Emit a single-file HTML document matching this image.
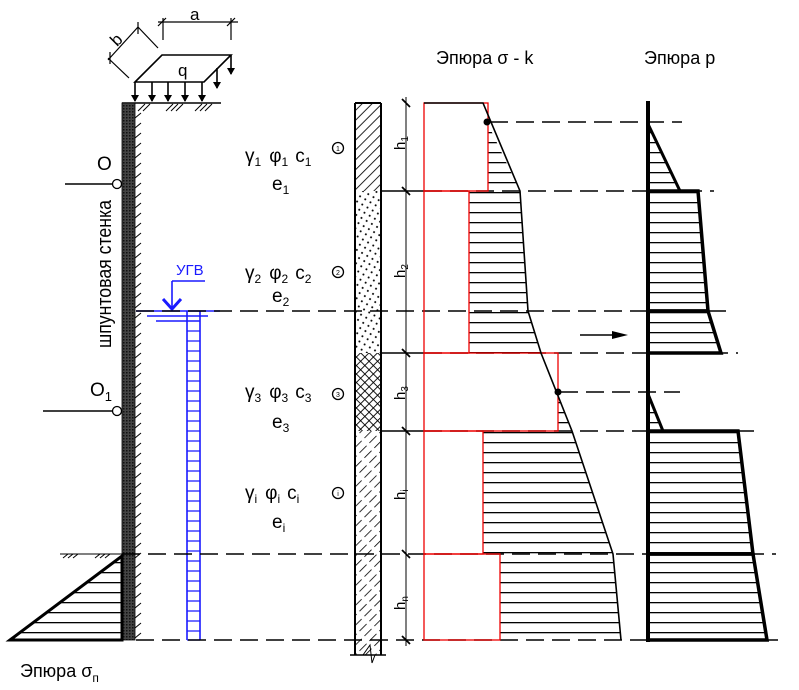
<!DOCTYPE html>
<html><head><meta charset="utf-8"><style>
html,body{margin:0;padding:0;background:#fff;width:799px;height:690px;overflow:hidden}
svg{display:block;font-family:"Liberation Sans","DejaVu Sans",sans-serif}
</style></head><body>
<svg width="799" height="690" viewBox="0 0 799 690" xmlns="http://www.w3.org/2000/svg">
<defs>
<pattern id="hz" patternUnits="userSpaceOnUse" width="10" height="10" y="2"><line x1="0" y1="0.5" x2="10" y2="0.5" stroke="#000" stroke-width="1.6"/></pattern>
<pattern id="diag" patternUnits="userSpaceOnUse" width="7" height="9" patternTransform="rotate(45)"><line x1="0" y1="0" x2="0" y2="9" stroke="#000" stroke-width="1.7"/></pattern>
<pattern id="diagd" patternUnits="userSpaceOnUse" width="7" height="14" patternTransform="rotate(45)"><line x1="0" y1="0" x2="0" y2="10" stroke="#000" stroke-width="1.6"/></pattern>
<pattern id="dots" patternUnits="userSpaceOnUse" width="6" height="6" patternTransform="rotate(30)"><circle cx="2" cy="2" r="1" fill="#000"/></pattern>
<pattern id="cross" patternUnits="userSpaceOnUse" width="6" height="6" patternTransform="rotate(45)"><line x1="0" y1="0" x2="0" y2="6" stroke="#000" stroke-width="1.8"/><line x1="0" y1="0" x2="6" y2="0" stroke="#000" stroke-width="1.8"/></pattern>
<pattern id="wall" patternUnits="userSpaceOnUse" width="3" height="3"><rect width="3" height="3" fill="#444"/><rect width="1.5" height="1.5" fill="#111"/></pattern>
</defs>

<!-- dimension a, b -->
<g stroke="#000" stroke-width="1.2" fill="none">
<line x1="158" y1="22" x2="238" y2="22"/>
<line x1="163" y1="18" x2="163" y2="40"/><line x1="231" y1="18" x2="231" y2="40"/>
<line x1="158" y1="26" x2="166" y2="18"/><line x1="227" y1="26" x2="235" y2="18"/>
<line x1="108" y1="60" x2="138" y2="27"/>
<line x1="108" y1="58" x2="129" y2="78"/><line x1="138" y1="27" x2="158" y2="48"/>
<line x1="110" y1="52" x2="110" y2="64"/><line x1="138" y1="22" x2="138" y2="34"/>
</g>
<text x="190" y="20" font-size="17">a</text>
<text x="112" y="45" font-size="17" transform="rotate(-45 117 40)">b</text>

<!-- load plate -->
<g stroke="#000" stroke-width="1.6" fill="none">
<polygon points="135,82 162,55 231,55 204,82"/>
<line x1="135" y1="82" x2="135" y2="101"/><line x1="152" y1="82" x2="152" y2="101"/><line x1="168" y1="82" x2="168" y2="101"/><line x1="185" y1="82" x2="185" y2="101"/><line x1="202" y1="82" x2="202" y2="101"/>
<line x1="217" y1="68" x2="217" y2="88"/><line x1="231" y1="55" x2="231" y2="74"/>
</g>
<g fill="#000">
<polygon points="131,95 139,95 135,102"/><polygon points="148,95 156,95 152,102"/><polygon points="164,95 172,95 168,102"/><polygon points="181,95 189,95 185,102"/><polygon points="198,95 206,95 202,102"/>
<polygon points="213,82 221,82 217,89"/><polygon points="227,68 235,68 231,75"/>
</g>
<text x="178" y="76" font-size="17">q</text>

<!-- ground line top -->
<line x1="122" y1="103" x2="221" y2="103" stroke="#000" stroke-width="1.6"/>
<g stroke="#000" stroke-width="1">
<line x1="138" y1="111" x2="145" y2="104"/><line x1="143" y1="111" x2="150" y2="104"/><line x1="166" y1="111" x2="173" y2="104"/><line x1="171" y1="111" x2="178" y2="104"/><line x1="176" y1="111" x2="183" y2="104"/><line x1="195" y1="111" x2="202" y2="104"/><line x1="200" y1="111" x2="207" y2="104"/><line x1="205" y1="111" x2="212" y2="104"/>
</g>
<!-- wall -->
<rect x="122" y="103" width="13" height="537" fill="url(#wall)" stroke="#000" stroke-width="0.8"/>
<g stroke="#000" stroke-width="1">
<path d="M135,118 l6,-5 M135,128 l6,-5 M135,138 l6,-5 M135,148 l6,-5 M135,158 l6,-5 M135,168 l6,-5 M135,178 l6,-5 M135,188 l6,-5 M135,198 l6,-5 M135,208 l6,-5 M135,218 l6,-5 M135,228 l6,-5 M135,238 l6,-5 M135,248 l6,-5 M135,258 l6,-5 M135,268 l6,-5 M135,278 l6,-5 M135,288 l6,-5 M135,298 l6,-5 M135,308 l6,-5 M135,318 l6,-5 M135,328 l6,-5 M135,338 l6,-5 M135,348 l6,-5 M135,358 l6,-5 M135,368 l6,-5 M135,378 l6,-5 M135,388 l6,-5 M135,398 l6,-5 M135,408 l6,-5 M135,418 l6,-5 M135,428 l6,-5 M135,438 l6,-5 M135,448 l6,-5 M135,458 l6,-5 M135,468 l6,-5 M135,478 l6,-5 M135,488 l6,-5 M135,498 l6,-5 M135,508 l6,-5 M135,518 l6,-5 M135,528 l6,-5 M135,538 l6,-5 M135,548 l6,-5 M135,558 l6,-5 M135,568 l6,-5 M135,578 l6,-5 M135,588 l6,-5 M135,598 l6,-5 M135,608 l6,-5 M135,618 l6,-5 M135,628 l6,-5 M135,638 l6,-5"/>
<path d="M63,558 l5,-4 M68,558 l5,-4 M73,558 l5,-4 M95,558 l5,-4 M100,558 l5,-4 M105,558 l5,-4"/>
</g>
<line x1="60" y1="554" x2="122" y2="554" stroke="#000" stroke-width="1"/>

<!-- anchors -->
<line x1="65" y1="184" x2="113" y2="184" stroke="#000" stroke-width="1.5"/>
<circle cx="117" cy="184" r="4.5" fill="#fff" stroke="#000" stroke-width="1.3"/>
<text x="97" y="170" font-size="19">O</text>
<line x1="43" y1="411" x2="113" y2="411" stroke="#000" stroke-width="1.5"/>
<circle cx="117" cy="411" r="4.5" fill="#fff" stroke="#000" stroke-width="1.3"/>
<text x="90" y="396" font-size="19">O<tspan font-size="13" dy="5">1</tspan></text>
<text font-size="20" transform="translate(111 348) rotate(-90)" textLength="148" lengthAdjust="spacingAndGlyphs">шпунтовая стенка</text>

<!-- passive triangle -->
<polygon points="10,640 122,556 122,640" fill="url(#hz)" stroke="#000" stroke-width="3"/>
<text x="20" y="677" font-size="18">Эпюра σ<tspan font-size="12" dy="5">п</tspan></text>

<!-- water -->
<g stroke="#1a1aff" stroke-width="1.6" fill="none">
<line x1="172" y1="281" x2="205" y2="281"/><line x1="172" y1="281" x2="172" y2="309"/>
<polyline points="163,299 172,309 181,299" stroke-width="3"/>
<line x1="136" y1="311" x2="220" y2="311"/>
<line x1="147" y1="316" x2="208" y2="316"/><line x1="156" y1="321" x2="200" y2="321"/>
<line x1="187" y1="311" x2="187" y2="640"/><line x1="200" y1="311" x2="200" y2="640"/>
</g>
<g stroke="#1a1aff" stroke-width="1.3">
<path d="M187,331H200M187,341H200M187,351H200M187,361H200M187,371H200M187,381H200M187,391H200M187,401H200M187,411H200M187,421H200M187,431H200M187,441H200M187,451H200M187,461H200M187,471H200M187,481H200M187,491H200M187,501H200M187,511H200M187,521H200M187,531H200M187,541H200M187,551H200M187,561H200M187,571H200M187,581H200M187,591H200M187,601H200M187,611H200M187,621H200M187,631H200M187,640H200"/>
</g>
<text x="176" y="275" font-size="15" fill="#1a1aff">УГВ</text>

<!-- layer labels -->
<g font-size="19">
<text x="245" y="162">γ<tspan font-size="12" dy="4">1</tspan><tspan dx="8" dy="-4">φ</tspan><tspan font-size="12" dy="4">1</tspan><tspan dx="7" dy="-4">c</tspan><tspan font-size="12" dy="4">1</tspan></text>
<text x="272" y="190">e<tspan font-size="12" dy="4">1</tspan></text>
<text x="245" y="279">γ<tspan font-size="12" dy="4">2</tspan><tspan dx="8" dy="-4">φ</tspan><tspan font-size="12" dy="4">2</tspan><tspan dx="7" dy="-4">c</tspan><tspan font-size="12" dy="4">2</tspan></text>
<text x="272" y="302">e<tspan font-size="12" dy="4">2</tspan></text>
<text x="245" y="398">γ<tspan font-size="12" dy="4">3</tspan><tspan dx="8" dy="-4">φ</tspan><tspan font-size="12" dy="4">3</tspan><tspan dx="7" dy="-4">c</tspan><tspan font-size="12" dy="4">3</tspan></text>
<text x="272" y="428">e<tspan font-size="12" dy="4">3</tspan></text>
<text x="245" y="499">γ<tspan font-size="12" dy="4">i</tspan><tspan dx="8" dy="-4">φ</tspan><tspan font-size="12" dy="4">i</tspan><tspan dx="7" dy="-4">c</tspan><tspan font-size="12" dy="4">i</tspan></text>
<text x="272" y="528">e<tspan font-size="12" dy="4">i</tspan></text>
</g>
<g fill="none" stroke="#000" stroke-width="1.3">
<circle cx="338" cy="148" r="5.5"/><circle cx="338" cy="272" r="5.5"/><circle cx="338" cy="394" r="5.5"/><circle cx="338" cy="493" r="5.5"/>
</g>
<g font-size="7" text-anchor="middle"><text x="338" y="151">1</text><text x="338" y="275">2</text><text x="338" y="397">3</text><text x="338" y="496">i</text></g>

<!-- soil column -->
<rect x="355" y="103" width="26" height="88" fill="url(#diag)"/>
<rect x="355" y="191" width="26" height="162" fill="url(#dots)"/>
<rect x="355" y="353" width="26" height="78" fill="url(#cross)"/>
<rect x="355" y="431" width="26" height="224" fill="url(#diagd)"/>
<g stroke="#000" stroke-width="2" fill="none">
<line x1="355" y1="103" x2="381" y2="103"/>
<line x1="355" y1="103" x2="355" y2="655"/><line x1="381" y1="103" x2="381" y2="655"/>
<line x1="350" y1="655" x2="386" y2="655" stroke-width="1.4"/>
</g>
<polyline points="363,655 370,645 372,663 375,655" fill="none" stroke="#000" stroke-width="1"/>

<!-- dimension line h -->
<line x1="406" y1="97" x2="406" y2="646" stroke="#000" stroke-width="1"/>
<g stroke="#000" stroke-width="1.8">
<line x1="402" y1="99" x2="410" y2="107"/><line x1="402" y1="187" x2="410" y2="195"/><line x1="402" y1="349" x2="410" y2="357"/><line x1="402" y1="427" x2="410" y2="435"/><line x1="402" y1="550" x2="410" y2="558"/><line x1="402" y1="636" x2="410" y2="644"/>
</g>
<g font-size="15">
<text transform="translate(405 150) rotate(-90)">h<tspan font-size="10" dy="3">1</tspan></text>
<text transform="translate(405 278) rotate(-90)">h<tspan font-size="10" dy="3">2</tspan></text>
<text transform="translate(405 400) rotate(-90)">h<tspan font-size="10" dy="3">3</tspan></text>
<text transform="translate(405 500) rotate(-90)">h<tspan font-size="10" dy="3">i</tspan></text>
<text transform="translate(405 610) rotate(-90)">h<tspan font-size="10" dy="3">n</tspan></text>
</g>

<!-- horizontal lines -->
<g stroke="#000" stroke-width="1.6" fill="none">
<line x1="381" y1="191" x2="424" y2="191"/>
<line x1="381" y1="353" x2="424" y2="353"/>
<line x1="381" y1="431" x2="424" y2="431"/>
</g>
<g stroke="#000" stroke-width="1.6" stroke-dasharray="18,8" fill="none">
<line x1="490" y1="122" x2="682" y2="122"/>
<line x1="424" y1="191" x2="714" y2="191"/>
<line x1="136" y1="311" x2="728" y2="311"/>
<line x1="424" y1="353" x2="738" y2="353"/>
<line x1="560" y1="392" x2="680" y2="392"/>
<line x1="424" y1="431" x2="762" y2="431"/>
<line x1="122" y1="554" x2="776" y2="554"/>
<line x1="136" y1="640" x2="780" y2="640"/>
</g>

<!-- σ-k epure hatches -->
<polygon points="488,124 520,191 488,191" fill="url(#hz)"/>
<polygon points="469,191 520,191 528,311 541,353 469,353" fill="url(#hz)"/>
<polygon points="558,394 572,431 558,431" fill="url(#hz)"/>
<polygon points="483,431 572,431 613,554 483,554" fill="url(#hz)"/>
<polygon points="500,554 613,554 621,640 500,640" fill="url(#hz)"/>
<!-- red rects -->
<g stroke="#e00" stroke-width="1.3" fill="none">
<rect x="424" y="103" width="64" height="88"/>
<rect x="424" y="191" width="45" height="162"/>
<rect x="424" y="353" width="134" height="78"/>
<rect x="424" y="431" width="59" height="123"/>
<rect x="424" y="554" width="76" height="86"/>
</g>
<polyline points="424,103 483,103 520,191 528,311 541,353 572,431 613,554 621,640" fill="none" stroke="#000" stroke-width="1.6"/>
<circle cx="487" cy="122" r="3.5" fill="#000"/>
<circle cx="558" cy="392" r="3.5" fill="#000"/>
<text x="436" y="64" font-size="18">Эпюра σ - k</text>

<!-- arrow -->
<line x1="580" y1="335" x2="618" y2="335" stroke="#000" stroke-width="1.4"/>
<polygon points="612,331 628,335 612,339" fill="#000"/>

<!-- p epure -->
<polygon points="648,124 680,191 648,191" fill="url(#hz)" stroke="#000" stroke-width="3"/>
<polygon points="648,191 698,191 708,311 648,311" fill="url(#hz)" stroke="#000" stroke-width="3.5"/>
<polygon points="648,311 708,311 721,353 648,353" fill="url(#hz)" stroke="#000" stroke-width="3.5"/>
<polygon points="648,394 663,431 648,431" fill="url(#hz)" stroke="#000" stroke-width="3"/>
<polygon points="648,431 738,431 753,554 648,554" fill="url(#hz)" stroke="#000" stroke-width="3.5"/>
<polygon points="648,554 753,554 767,640 648,640" fill="url(#hz)" stroke="#000" stroke-width="3.5"/>
<line x1="648" y1="101" x2="648" y2="642" stroke="#000" stroke-width="4"/>
<text x="644" y="64" font-size="18">Эпюра p</text>
</svg>
</body></html>
